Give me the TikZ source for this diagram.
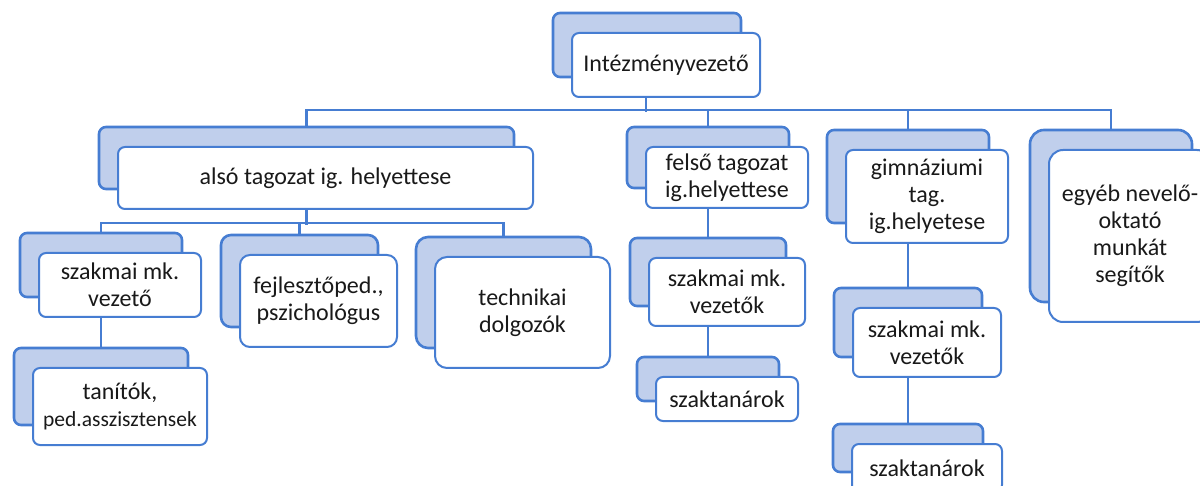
\documentclass[tikz,border=0pt]{standalone}
\usepackage{fontspec}
\setmainfont{Carlito}
\usepackage{tikz}
\usetikzlibrary{shadows,backgrounds}
\definecolor{lineblue}{RGB}{70,125,210}
\definecolor{shadeblue}{RGB}{192,207,236}

\begin{document}
\begin{tikzpicture}[x=1pt, y=-1pt, thick, main/.style = {draw=lineblue, line width=2pt, fill=white, rectangle, rounded corners=7pt, align=center, inner sep=0pt, text=black!90, font={\fontsize{24}{27}\selectfont}, general shadow={fill=shadeblue, draw=lineblue, line width=2.6pt, shadow xshift=-19pt, shadow yshift=20pt}}, conn/.style = {draw=lineblue, line width=2.6pt}]
\useasboundingbox (0,0) rectangle (1200,486);
\node[main, minimum width=188pt, minimum height=64pt] (1) at (666,65) {Intézményvezető};
\node[main, minimum width=415pt, minimum height=62pt] (2) at (325.5,178) {alsó tagozat ig. helyettese};
\node[main, minimum width=162pt, minimum height=61pt] (3) at (727,177.5) {felső tagozat\\ig.helyettese};
\node[main, minimum width=162pt, minimum height=93pt] (4) at (927,196.5) {gimnáziumi\\tag.\\ig.helyetese};
\node[main, minimum width=162pt, minimum height=172pt, rounded corners=14pt] (5) at (1130,236) {egyéb nevelő-\\oktató\\munkát\\segítők};
\node[main, minimum width=162pt, minimum height=64pt] (6) at (120,285) {szakmai mk.\\vezető};
\node[main, minimum width=174pt, minimum height=77pt] (7) at (120,406.5) {tanítók,\\\fontsize{21.5}{24}\selectfont ped.asszisztensek};
\node[main, minimum width=157pt, minimum height=92pt, rounded corners=10pt] (8) at (318.5,301) {fejlesztőped.,\\pszichológus};
\node[main, minimum width=175pt, minimum height=111pt, rounded corners=12pt] (9) at (522.5,312.5) {technikai\\dolgozók};
\node[main, minimum width=156pt, minimum height=68pt] (10) at (727,292) {szakmai mk.\\vezetők};
\node[main, minimum width=142pt, minimum height=44pt] (11) at (727,399) {szaktanárok};
\node[main, minimum width=148pt, minimum height=69pt] (12) at (927,342.5) {szakmai mk.\\vezetők};
\node[main, minimum width=150pt, minimum height=48pt] (13) at (927,468) {szaktanárok};

\begin{scope}[on background layer]
\draw[conn] ([xshift=-20pt]1.south) -- ++(0,14);
\draw[conn] ([xshift=-19pt]2.north) -- ++(0,-36) -| ([xshift=-19pt]5.north);
\draw[conn] ([xshift=-19pt]3.north) -- ++(0,-36);
\draw[conn] ([xshift=-19pt]4.north) -- ++(0,-39);
\draw[conn] ([xshift=-19pt]2.south) -- ++(0,15);
\draw[conn] ([xshift=-19pt]6.north) -- ++(0,-29) -| ([xshift=-19pt]9.north);
\draw[conn] ([xshift=-19pt]8.north) -- ++(0,-31);
\draw[conn] ([xshift=-19pt]6.south) -- ([xshift=-19pt]7.north);
\draw[conn] ([xshift=-19pt]3.south) -- ([xshift=-19pt]10.north);
\draw[conn] ([xshift=-19pt]10.south) -- ([xshift=-19pt]11.north);
\draw[conn] ([xshift=-19pt]4.south) -- ([xshift=-19pt]12.north);
\draw[conn] ([xshift=-19pt]12.south) -- ([xshift=-19pt]13.north);
\end{scope}
\end{tikzpicture}
\end{document}
